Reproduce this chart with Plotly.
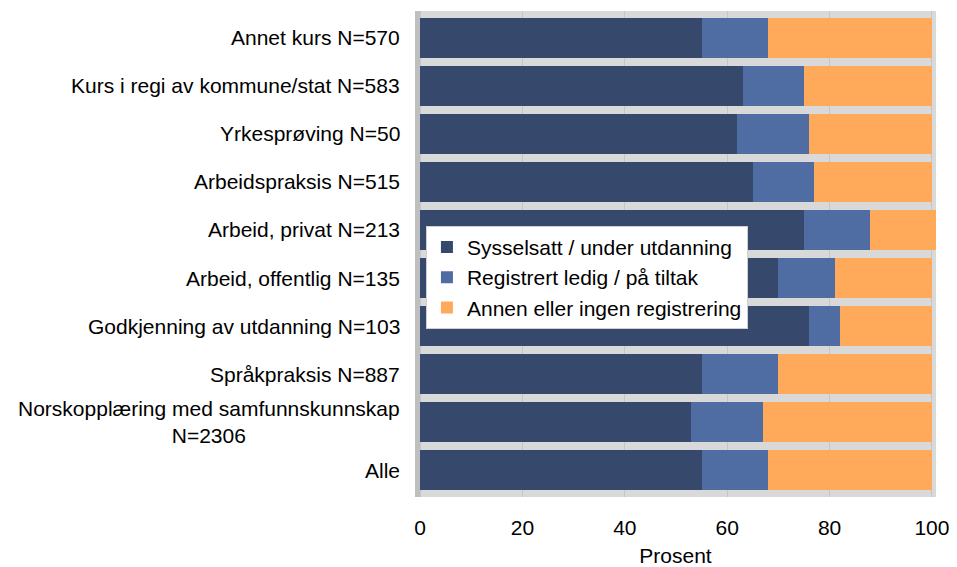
import plotly.graph_objects as go

categories = [
    "Annet kurs N=570",
    "Kurs i regi av kommune/stat N=583",
    "Yrkesprøving N=50",
    "Arbeidspraksis N=515",
    "Arbeid, privat N=213",
    "Arbeid, offentlig N=135",
    "Godkjenning av utdanning N=103",
    "Språkpraksis N=887",
    "Norskopplæring med samfunnskunnskap<br>N=2306",
    "Alle",
]
sysselsatt = [55, 63, 62, 65, 75, 70, 76, 55, 53, 55]
registrert = [13, 12, 14, 12, 13, 11, 6, 15, 14, 13]
annen = [32, 25, 24, 23, 13, 19, 18, 30, 33, 32]
series_names = [
    "Sysselsatt / under utdanning",
    "Registrert ledig / på tiltak",
    "Annen eller ingen registrering",
]
colors = ["#36486c", "#4f6ca3", "#ffaa5b"]
x_ticks = [0, 20, 40, 60, 80, 100]

FONT = "Liberation Sans, Arial, sans-serif"

fig = go.Figure()
for name, vals, col in zip(series_names, [sysselsatt, registrert, annen], colors):
    fig.add_trace(go.Bar(
        y=categories, x=vals, name=name, orientation="h",
        marker=dict(color=col, line=dict(width=0)),
        legendgroup=name,
    ))

annotations = []
for c in categories:
    annotations.append(dict(
        xref="paper", yref="y", x=0, y=c, xshift=-13,
        xanchor="right", yanchor="middle", align="center",
        text=c, showarrow=False,
        font=dict(family=FONT, size=21, color="#000000"),
    ))

# page body has an 8px default margin, so the figure is 8px smaller and offset
fig.update_layout(
    width=949, height=559,
    margin=dict(l=407, r=21, t=3, b=65),
    barmode="stack", bargap=0.175,
    paper_bgcolor="white", plot_bgcolor="#d9d9d9",
    font=dict(family=FONT, size=21, color="#000000"),
    showlegend=True,
    legend=dict(
        x=0.021, y=0.558, xanchor="left", yanchor="top",
        bgcolor="white", bordercolor="#d0d0d0", borderwidth=1,
        font=dict(family=FONT, size=21, color="#000000"),
        tracegroupgap=4, traceorder="normal",
    ),
    annotations=annotations,
    shapes=[dict(type="rect", xref="x", yref="paper", x0=-1, x1=0, y0=0, y1=1,
                 fillcolor="#bfbfbf", line=dict(width=0), layer="below")],
)
fig.update_xaxes(
    range=[-1, 100.8], tickvals=x_ticks, ticktext=[str(t) for t in x_ticks],
    showgrid=True, gridcolor="#c6c6c6", gridwidth=1, zeroline=False,
    ticks="", ticklabelstandoff=16,
    tickfont=dict(family=FONT, size=21, color="#000000"),
    title=dict(text="Prosent", standoff=10, font=dict(family=FONT, size=21, color="#000000")),
)
fig.update_yaxes(
    type="category", categoryorder="array", categoryarray=categories,
    range=[9.56, -0.56], showticklabels=False, showgrid=False, zeroline=False,
)

fig.write_html("out.html")
